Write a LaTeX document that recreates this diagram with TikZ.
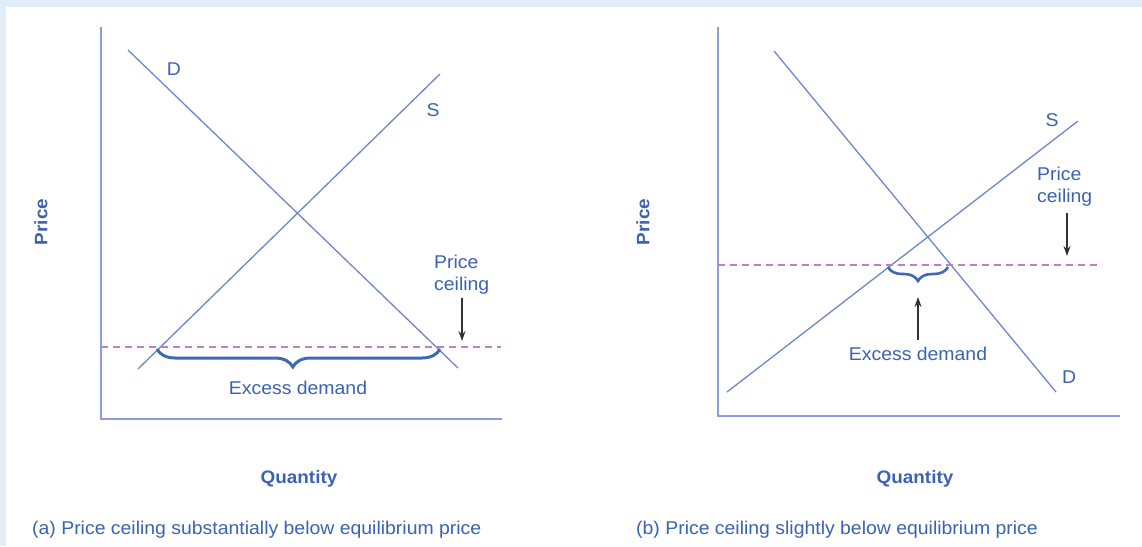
\documentclass[tikz,border=0pt]{standalone}
\usepackage{fontspec}
\setmainfont[FakeStretch=1.05]{Liberation Sans}
\usetikzlibrary{arrows.meta,decorations.pathreplacing}
\definecolor{bandblue}{HTML}{E1EDF7}
\definecolor{curveblue}{HTML}{6E87CB}
\definecolor{axisblue}{HTML}{8C9EDB}
\definecolor{txtblue}{HTML}{3A63B3}
\definecolor{bracecol}{HTML}{3E69B7}
\definecolor{ceilcol}{HTML}{C47DC0}
\tikzset{
  curve/.style={draw=curveblue, line width=1.3pt},
  axis/.style={draw=axisblue, line width=2pt},
  ceil/.style={draw=ceilcol, line width=1.1pt, dash pattern=on 7pt off 5pt},
  lbl/.style={text=txtblue, font=\fontsize{18.5}{22}\selectfont, inner sep=0pt},
  axlbl/.style={text=txtblue, font=\fontsize{18}{22}\selectfont\bfseries, inner sep=0pt},
  bracestyle/.style={draw=bracecol, line width=3pt, decorate, decoration={brace, mirror, amplitude=#1}},
  pointer/.style={draw=black!80, line width=1.2pt, -{Stealth[length=10pt,width=7pt]}}
}
\begin{document}
\begin{tikzpicture}[x=1pt, y=-1pt]
\useasboundingbox (0,0) rectangle (1142,546);
\fill[bandblue] (0,0) rectangle (1142,546);
\fill[white] (6,7) rectangle (1142,546);

% ---------- panel (a) ----------
\coordinate (aO) at (101,419);
\coordinate (aYt) at (101,27);
\coordinate (aXr) at (502,419);
\draw[axis] (aYt) -- (aO) -- (aXr);
\coordinate (aD1) at (128,50);
\coordinate (aD2) at (458,368);
\coordinate (aS1) at (138,369);
\coordinate (aS2) at (440,74);
\draw[curve] (aD1) -- (aD2);
\draw[curve] (aS1) -- (aS2);
\coordinate (aC1) at (101,347);
\coordinate (aC2) at (501,347);
\draw[ceil] (aC1) -- (aC2);
\coordinate (aB1) at (157,349);
\coordinate (aB2) at (440,349);
\draw[bracestyle=18pt, decoration={aspect=0.48}] (aB1) -- (aB2);
\node[lbl] (aEx) at (298,388) {Excess demand};
\node[lbl] (aDl) at (174,69) {D};
\node[lbl] (aSl) at (433,110) {S};
\node[lbl, anchor=west, align=left] (aPC) at (434,275) {Price\\ceiling};
\coordinate (aA1) at (462,298);
\coordinate (aA2) at (462,341);
\draw[pointer] (aA1) -- (aA2);
\node[axlbl, rotate=90] (aPr) at (41,222) {Price};
\node[axlbl] (aQ) at (299,479) {Quantity};
\node[lbl, anchor=west] (aCap) at (32,530) {(a) Price ceiling substantially below equilibrium price};

% ---------- panel (b) ----------
\coordinate (bO) at (718,416);
\coordinate (bYt) at (718,27);
\coordinate (bXr) at (1120,416);
\draw[axis] (bYt) -- (bO) -- (bXr);
\coordinate (bD1) at (774,51);
\coordinate (bD2) at (1056,392);
\coordinate (bS1) at (727,392);
\coordinate (bS2) at (1078,121);
\draw[curve] (bD1) -- (bD2);
\draw[curve] (bS1) -- (bS2);
\coordinate (bC1) at (718,265);
\coordinate (bC2) at (1102,265);
\draw[ceil] (bC1) -- (bC2);
\coordinate (bB1) at (888,267);
\coordinate (bB2) at (948,267);
\draw[bracestyle=14pt, line width=2.6pt, decoration={aspect=0.5}] (bB1) -- (bB2);
\coordinate (bA1) at (918,340);
\coordinate (bA2) at (918,297);
\draw[pointer] (bA1) -- (bA2);
\node[lbl] (bEx) at (918,354) {Excess demand};
\node[lbl] (bDl) at (1069,377) {D};
\node[lbl] (bSl) at (1052,120) {S};
\node[lbl, anchor=west, align=left] (bPC) at (1037,187) {Price\\ceiling};
\coordinate (bP1) at (1067,213);
\coordinate (bP2) at (1067,256);
\draw[pointer] (bP1) -- (bP2);
\node[axlbl, rotate=90] (bPr) at (643,222) {Price};
\node[axlbl] (bQ) at (915,479) {Quantity};
\node[lbl, anchor=west] (bCap) at (636,530) {(b) Price ceiling slightly below equilibrium price};
\end{tikzpicture}
\end{document}
